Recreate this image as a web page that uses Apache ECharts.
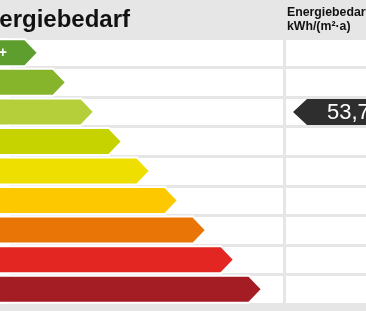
<!DOCTYPE html>
<html>
<head>
<meta charset="utf-8">
<script src="https://cdn.jsdelivr.net/npm/echarts@6/dist/echarts.min.js"></script>
<style>
html,body{margin:0;padding:0;background:#fff;}
#chart{width:366px;height:311px;}
</style>
</head>
<body>
<div id="chart"></div>
<script>
// ---- data ----
const classes = ['A+', 'A', 'B', 'C', 'D', 'E', 'F', 'G', 'H'];
const barSteps = [1, 2, 3, 4, 5, 6, 7, 8, 9];
const currentClass = 'B';
const currentValue = 53.7;
const titleText = 'Energiebedarf';
const columnTitle = 'Energiebedarf';
const columnUnit = 'kWh/(m²·a)';

// ---- styles ----
const classColors = ['#5d9e2f', '#86b42b', '#b5cf3b', '#c7d300', '#efdf00', '#fdc800', '#ea7507', '#e42622', '#a41d25'];
const grey = '#e6e6e6';
const font = '"Liberation Sans", Arial, sans-serif';

const chart = echarts.init(document.getElementById('chart'), null, {renderer: 'canvas'});

const barData = classes.map((c, i) => [barSteps[i], c]);
const markerData = [[0, currentClass, currentValue]];

const option = {
  backgroundColor: '#ffffff',
  animation: false,
  grid: [
    {left: 10, top: 38, width: 280, height: 266},
    {left: 286, top: 38, right: 0, height: 266}
  ],
  xAxis: [
    {gridIndex: 0, type: 'value', min: 0, max: 10, show: false},
    {gridIndex: 1, type: 'value', min: 0, max: 1, show: false}
  ],
  yAxis: [0, 1].map(g => ({
    gridIndex: g, type: 'category', data: classes, inverse: true,
    axisLine: {show: false}, axisTick: {show: false}, axisLabel: {show: false},
    splitLine: {show: true, lineStyle: {color: grey, width: 3}}
  })),
  graphic: [
    {type: 'rect', z: 1, shape: {x: 0, y: 0, width: 366, height: 38}, style: {fill: grey}},
    {type: 'rect', z: 1, shape: {x: 0, y: 304, width: 366, height: 7}, style: {fill: grey}},
    {type: 'rect', z: 1, shape: {x: 283, y: 38, width: 3, height: 266}, style: {fill: grey}},
    {type: 'text', z: 5, x: 130, y: 20, style: {text: titleText, fill: '#111', font: 'bold 24px ' + font, align: 'right', verticalAlign: 'middle', textAlign: 'right', textVerticalAlign: 'middle'}},
    {type: 'text', z: 5, x: 287, y: 13, style: {text: columnTitle, fill: '#111', font: 'bold 12.3px ' + font, align: 'left', verticalAlign: 'middle', textAlign: 'left', textVerticalAlign: 'middle'}},
    {type: 'text', z: 5, x: 287, y: 26.5, style: {text: columnUnit, fill: '#111', font: 'bold 12.3px ' + font, align: 'left', verticalAlign: 'middle', textAlign: 'left', textVerticalAlign: 'middle'}}
  ],
  series: [
    {
      type: 'custom', xAxisIndex: 0, yAxisIndex: 0, z: 3,
      encode: {x: 0, y: 1},
      data: barData,
      renderItem: function (params, api) {
        const idx = params.dataIndex;
        const catIdx = api.value(1);
        const startX = params.coordSys.x - 30;
        const tip = api.coord([api.value(0), catIdx]);
        const half = 13.5;
        const head = 13;
        const cy = tip[1];
        return {
          type: 'group',
          children: [
            {
              type: 'polygon',
              shape: {points: [
                [startX, cy - half], [tip[0] - head, cy - half], [tip[0], cy],
                [tip[0] - head, cy + half], [startX, cy + half]
              ]},
              style: {fill: classColors[idx], stroke: '#ffffff', lineWidth: 2}
            },
            {
              type: 'text',
              style: {text: classes[idx], x: startX + 8.7, y: cy, fill: '#ffffff', font: 'bold 14px ' + font,
                align: 'left', verticalAlign: 'middle', textAlign: 'left', textVerticalAlign: 'middle'}
            }
          ]
        };
      }
    },
    {
      type: 'custom', xAxisIndex: 1, yAxisIndex: 1, z: 4,
      encode: {x: 0, y: 1},
      data: markerData,
      renderItem: function (params, api) {
        const p = api.coord([api.value(0), api.value(1)]);
        const tipX = p[0] + 7;
        const cy = p[1];
        const half = 13;
        const label = String(api.value(2)).replace('.', ',');
        return {
          type: 'group',
          children: [
            {
              type: 'polygon',
              shape: {points: [
                [tipX, cy], [tipX + 14, cy - half], [400, cy - half],
                [400, cy + half], [tipX + 14, cy + half]
              ]},
              style: {fill: '#2e2e2e'}
            },
            {
              type: 'text',
              style: {text: label, x: tipX + 34, y: cy + 1, fill: '#ffffff', font: '22px ' + font,
                align: 'left', verticalAlign: 'middle', textAlign: 'left', textVerticalAlign: 'middle'}
            }
          ]
        };
      }
    }
  ]
};
chart.setOption(option);
</script>
</body>
</html>
